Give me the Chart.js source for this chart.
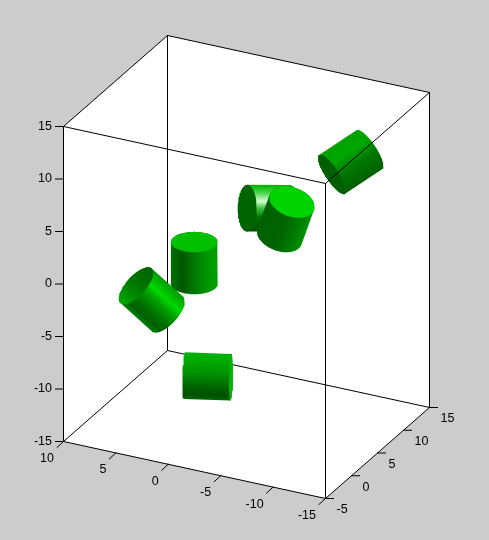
<!DOCTYPE html>
<html><head><meta charset="utf-8">
<script src="https://cdn.jsdelivr.net/npm/chart.js@4"></script>
<style>html,body{margin:0;padding:0;background:#cccccc}canvas{display:block}</style>
</head><body><canvas id="c" width="489" height="540"></canvas>
<script>
// axis limits and ticks (data units)
const xLimits = [10, -15];
const yLimits = [-5, 15];
const zLimits = [-15, 15];
const xTicks = [10, 5, 0, -5, -10, -15];
const yTicks = [-5, 0, 5, 10, 15];
const zTicks = [-15, -10, -5, 0, 5, 10, 15];

// cylinders: centre and axis direction in data units
const cylX = [-3.83, -6.35, 0, 2.18, -2.56, -9.95];
const cylY = [6.58, 4.79, 0, -3.76, -2.59, 10.04];
const cylZ = [5.2, 5.47, 2, -0.36, -7.12, 9.43];
const axisX = [0.654, -0.341, 0, 0.555, -0.932, 0.499];
const axisY = [-0.736, -0.094, 0, -0.402, 0.365, -0.789];
const axisZ = [0.179, 0.936, 1, 0.73, 0.004, -0.357];
const cylRadius = 2;
const cylHalfLength = 2;

// shading (not data)
const sideShades = [
  [[0,'#00b000'],[.15,'#40d040'],[.35,'#d0ffd0'],[.5,'#40c040'],[.7,'#007000'],[1,'#005000']],
  [[0,'#006000'],[.5,'#006400'],[.8,'#007c00'],[.97,'#009000'],[1,'#00a000']],
  [[0,'#007000'],[.25,'#005800'],[.5,'#007800'],[.8,'#009800'],[1,'#00a000']],
  [[0,'#009c00'],[.1,'#00b000'],[.28,'#00d800'],[.45,'#00a000'],[.7,'#007000'],[.88,'#006000'],[1,'#008000']],
  [[0,'#00b010'],[.15,'#00ac00'],[.45,'#009000'],[.7,'#006800'],[.9,'#005000'],[1,'#006800']],
  [[0,'#00a000'],[.3,'#00a800'],[.6,'#007800'],[1,'#006000']]
];
const capShades = [
  [[0,'#006400'],[1,'#006400']],
  [[0,'#00d400'],[1,'#00d400']],
  [[0,'#00c000'],[1,'#00c000']],
  [[0,'#006000'],[.5,'#007800'],[1,'#00a800']],
  [[0,'#00b800'],[1,'#00b800']],
  [[0,'#006000'],[1,'#006000']]
];

function proj(x, y, z) {
  return {
    x: 63 + (10 - x) * 10.48 + (y + 5) * 5.2,
    y: 441 + (10 - x) * 2.28 - (y + 5) * 4.55 - (z + 15) * 10.5
  };
}
const view = [-0.4, -0.806, 0.437];
const cross = (a, b) => [a[1]*b[2]-a[2]*b[1], a[2]*b[0]-a[0]*b[2], a[0]*b[1]-a[1]*b[0]];
const dot = (a, b) => a[0]*b[0]+a[1]*b[1]+a[2]*b[2];
const unit = a => { const l = Math.sqrt(dot(a,a)); return a.map(v => v/l); };

const datasets = [];
function poly(points, bg) {
  datasets.push({ data: points, showLine: true, pointRadius: 0, borderWidth: 0,
    borderColor: 'rgba(0,0,0,0)', backgroundColor: bg, fill: 'shape', tension: 0 });
}
function lines(points, width) {
  datasets.push({ data: points, showLine: true, pointRadius: 0, borderWidth: width || 1,
    borderColor: '#000000', fill: false, tension: 0, spanGaps: false, borderCapStyle: 'square' });
}
const gap = { x: NaN, y: NaN };
const [xa, xb] = xLimits, [ya, yb] = yLimits, [za, zb] = zLimits;
function edges(list) {
  const out = [];
  list.forEach(e => { out.push(proj(...e[0]), proj(...e[1]), gap); });
  return out;
}
function shade(p0, p1, stops) {
  return ctx => {
    const ch = ctx.chart, sx = ch.scales.x, sy = ch.scales.y;
    if (!ch.chartArea) return stops[0][1];
    const g = ch.ctx.createLinearGradient(sx.getPixelForValue(p0.x), sy.getPixelForValue(p0.y), sx.getPixelForValue(p1.x), sy.getPixelForValue(p1.y));
    stops.forEach(s => g.addColorStop(s[0], s[1]));
    return g;
  };
}

// walls
poly([proj(xa,ya,zb), proj(xa,yb,zb), proj(xb,yb,zb), proj(xb,yb,za), proj(xb,ya,za), proj(xa,ya,za), proj(xa,ya,zb)], '#ffffff');
// back edges
lines(edges([
  [[xa,yb,za],[xa,yb,zb]], [[xb,yb,za],[xb,yb,zb]],
  [[xa,ya,za],[xa,yb,za]], [[xa,yb,za],[xb,yb,za]],
  [[xa,yb,zb],[xb,yb,zb]], [[xa,ya,zb],[xa,yb,zb]]
]));

// cylinders, painted back to front
cylX.forEach((_, i) => {
  const c = [cylX[i], cylY[i], cylZ[i]];
  let a = unit([axisX[i], axisY[i], axisZ[i]]);
  if (dot(a, view) < 0) a = a.map(v => -v);   // +a end faces the viewer
  const e1 = unit(cross(a, view));
  let e2 = unit(cross(a, e1));
  if (dot(e2, view) > 0) e2 = e2.map(v => -v);
  const at = (sign, t) => {
    const p = [0,1,2].map(k => c[k] + sign*cylHalfLength*a[k] + cylRadius*(Math.cos(t)*e1[k] + Math.sin(t)*e2[k]));
    return proj(p[0], p[1], p[2]);
  };
  const n = 48, side = [], cap = [];
  // outer half of each end circle gives the silhouette
  for (let k = 0; k <= n; k++) side.push(at(-1, Math.PI + Math.PI * k / n));
  for (let k = 0; k <= n; k++) side.push(at(1, Math.PI * k / n));
  side.push(side[0]);
  for (let k = 0; k <= 2*n; k++) cap.push(at(1, Math.PI * k / n));
  const pa = proj(...[0,1,2].map(k => c[k] + cylRadius*e1[k]));
  const pb = proj(...[0,1,2].map(k => c[k] - cylRadius*e1[k]));
  const horiz = Math.abs(pa.x-pb.x) > Math.abs(pa.y-pb.y);
  const swap = horiz ? pa.x > pb.x : pa.y > pb.y;
  const p0 = swap ? pb : pa, p1 = swap ? pa : pb;
  poly(side, shade(p0, p1, sideShades[i]));
  poly(cap, shade(p0, p1, capShades[i]));
});

// front edges
lines(edges([
  [[xa,ya,za],[xa,ya,zb]], [[xb,ya,za],[xb,ya,zb]],
  [[xa,ya,za],[xb,ya,za]], [[xb,ya,za],[xb,yb,za]],
  [[xa,ya,zb],[xb,ya,zb]], [[xb,ya,zb],[xb,yb,zb]]
]));
// tick marks
const tickPts = [];
const tickFrom = (p, dx, dy) => { tickPts.push(p, { x: p.x + dx, y: p.y + dy }, gap); };
xTicks.forEach(t => tickFrom(proj(t, ya, za), -6.5, 6));
yTicks.forEach(t => tickFrom(proj(xb, t, za), 8, 0));
zTicks.forEach(t => tickFrom(proj(xa, ya, t), -8, 0));
lines(tickPts);

const count = datasets.length;
datasets.forEach((d, i) => { d.order = count - i; });

const labelPlugin = {
  id: 'labels3d',
  afterDatasetsDraw(chart) {
    const c = chart.ctx, sx = chart.scales.x, sy = chart.scales.y;
    c.save();
    c.fillStyle = '#000000';
    c.font = '12.5px "Liberation Sans", Arial, sans-serif';
    c.textBaseline = 'middle';
    const put = (t, p, dx, dy, align) => {
      c.textAlign = align;
      c.fillText(String(t), sx.getPixelForValue(p.x) + dx, sy.getPixelForValue(p.y) + dy);
    };
    xTicks.forEach(t => put(t, proj(t, ya, za), -9.5, 17, 'right'));
    yTicks.forEach(t => put(t, proj(xb, t, za), 11, 11.5, 'left'));
    zTicks.forEach(t => put(t, proj(xa, ya, t), -11.5, 0, 'right'));
    c.restore();
  }
};

new Chart(document.getElementById('c'), {
  type: 'scatter',
  data: { datasets },
  plugins: [labelPlugin],
  options: {
    responsive: false, animation: false, events: [],
    layout: { padding: 0 },
    scales: {
      x: { type: 'linear', display: false, min: -0.5, max: 488.5 },
      y: { type: 'linear', display: false, min: -0.5, max: 539.5, reverse: true }
    },
    plugins: { legend: { display: false }, tooltip: { enabled: false } }
  }
});
</script></body></html>
